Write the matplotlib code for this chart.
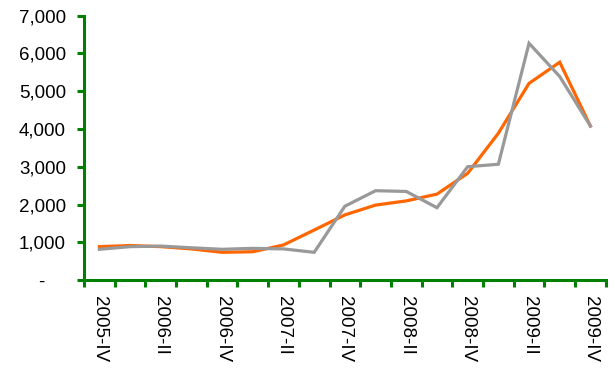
import matplotlib
matplotlib.use("Agg")
import matplotlib.pyplot as plt
from matplotlib.ticker import FixedLocator, FuncFormatter

plt.rcParams['font.family'] = ['Liberation Sans', 'DejaVu Sans']

quarters = ["2005-IV", "2006-I", "2006-II", "2006-III", "2006-IV",
            "2007-I", "2007-II", "2007-III", "2007-IV", "2008-I",
            "2008-II", "2008-III", "2008-IV", "2009-I", "2009-II",
            "2009-III", "2009-IV"]
series_orange = [890, 920, 890, 830, 740, 755, 935, 1330, 1730, 1990,
                 2100, 2280, 2830, 3890, 5210, 5770, 4080]
series_gray = [820, 890, 905, 860, 820, 845, 830, 740, 1960, 2370,
               2350, 1920, 3005, 3070, 6270, 5390, 4080]
y_ticks = [0, 1000, 2000, 3000, 4000, 5000, 6000, 7000]

green = "#008000"

fig = plt.figure(figsize=(6.15, 3.71), dpi=100)
ax = fig.add_axes([0.1366, 0.2445, 0.8484, 0.7132])

x = list(range(len(quarters)))
ax.plot(x, series_orange, color="#FF6600", lw=2.3, solid_joinstyle="miter")
ax.plot(x, series_gray, color="#999999", lw=2.3, solid_joinstyle="miter")

ax.set_xlim(-0.5, len(quarters) - 0.5)
ax.set_ylim(0, 7000)

for s in ("top", "right"):
    ax.spines[s].set_visible(False)
for s in ("left", "bottom"):
    ax.spines[s].set_color(green)
    ax.spines[s].set_linewidth(2.2)

ax.yaxis.set_major_locator(FixedLocator(y_ticks))
ax.yaxis.set_major_formatter(FuncFormatter(lambda v, p: "-    " if v == 0 else f"{int(v):,}"))
ax.tick_params(axis="y", direction="out", length=5, width=2.2, color=green,
               labelsize=13.5, pad=8)

# category boundaries carry the tick marks, every other category gets a label
ax.xaxis.set_major_locator(FixedLocator([i - 0.5 for i in range(len(quarters) + 1)]))
ax.xaxis.set_major_formatter(FuncFormatter(lambda v, p: ""))
ax.xaxis.set_minor_locator(FixedLocator(x[::2]))
ax.xaxis.set_minor_formatter(FuncFormatter(lambda v, p: quarters[int(round(v))]))
ax.tick_params(axis="x", which="major", direction="out", length=5, width=2.2, color=green)
ax.tick_params(axis="x", which="minor", length=0, labelsize=13.5, pad=11)
for lbl in ax.get_xticklabels(minor=True):
    lbl.set_rotation(270)
    lbl.set_va("top")
    lbl.set_ha("center")

fig.savefig("out.png", dpi=100)
